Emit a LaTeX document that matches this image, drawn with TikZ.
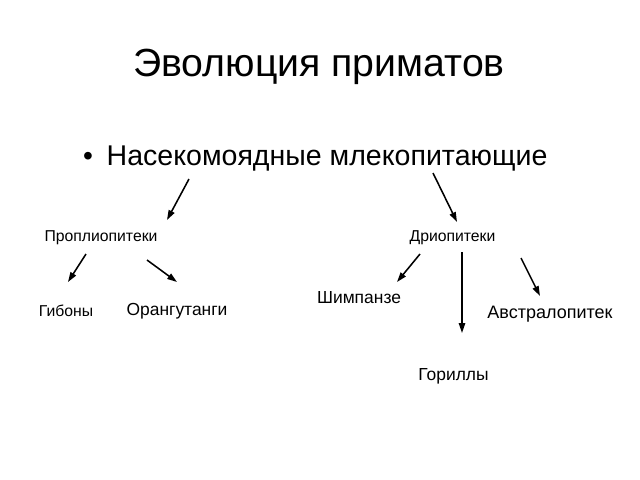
\documentclass[tikz,border=0pt]{standalone}
\usepackage{fontspec}
\setmainfont{Liberation Sans}
\usetikzlibrary{arrows.meta}
\begin{document}
\begin{tikzpicture}[x=0.025cm, y=-0.025cm,
  arr/.style={-{Triangle[length=7pt,width=4.5pt]}, line width=1.1pt},
  lbl/.style={anchor=base, inner sep=0pt, font=\fontsize{11.2}{13}\selectfont},
  lblbig/.style={anchor=base, inner sep=0pt, font=\fontsize{12.4}{14}\selectfont}]

\useasboundingbox [fill=white] (0,0) rectangle (640,480);

\node (title) [anchor=base, inner sep=0pt, font=\fontsize{27.9}{33}\selectfont] at (319,76.5) {Эволюция приматов};
\node (dot) [anchor=base, inner sep=0pt, font=\fontsize{20}{24}\selectfont] at (88,165) {•};
\node (insect) [anchor=base, inner sep=0pt, font=\fontsize{20.3}{24}\selectfont] at (327,165) {Насекомоядные млекопитающие};

\node (propl) [lbl] at (101,241) {Проплиопитеки};
\node (drio) [lbl] at (452.5,241) {Дриопитеки};
\node (gib) [lbl] at (66,316) {Гибоны};
\node (orang) [lblbig] at (177,315) {Орангутанги};
\node (chimp) [lblbig] at (359,303) {Шимпанзе};
\node (austr) [lblbig, font=\fontsize{12.8}{14}\selectfont] at (550,318) {Австралопитек};
\node (gor) [lblbig] at (453.5,380) {Гориллы};

\coordinate (a1) at (189,179); \coordinate (b1) at (167,220);
\coordinate (a2) at (433,173); \coordinate (b2) at (457,222);
\coordinate (a3) at (86,254);  \coordinate (b3) at (68,282);
\coordinate (a4) at (147,260); \coordinate (b4) at (177,282);
\coordinate (a5) at (420,254); \coordinate (b5) at (397,282);
\coordinate (a6) at (462,252); \coordinate (b6) at (462,333);
\coordinate (a7) at (521,258); \coordinate (b7) at (540,296);

\draw [arr] (a1) -- (b1);
\draw [arr] (a2) -- (b2);
\draw [arr] (a3) -- (b3);
\draw [arr] (a4) -- (b4);
\draw [arr] (a5) -- (b5);
\draw [arr] (a6) -- (b6);
\draw [arr] (a7) -- (b7);
\end{tikzpicture}
\end{document}
